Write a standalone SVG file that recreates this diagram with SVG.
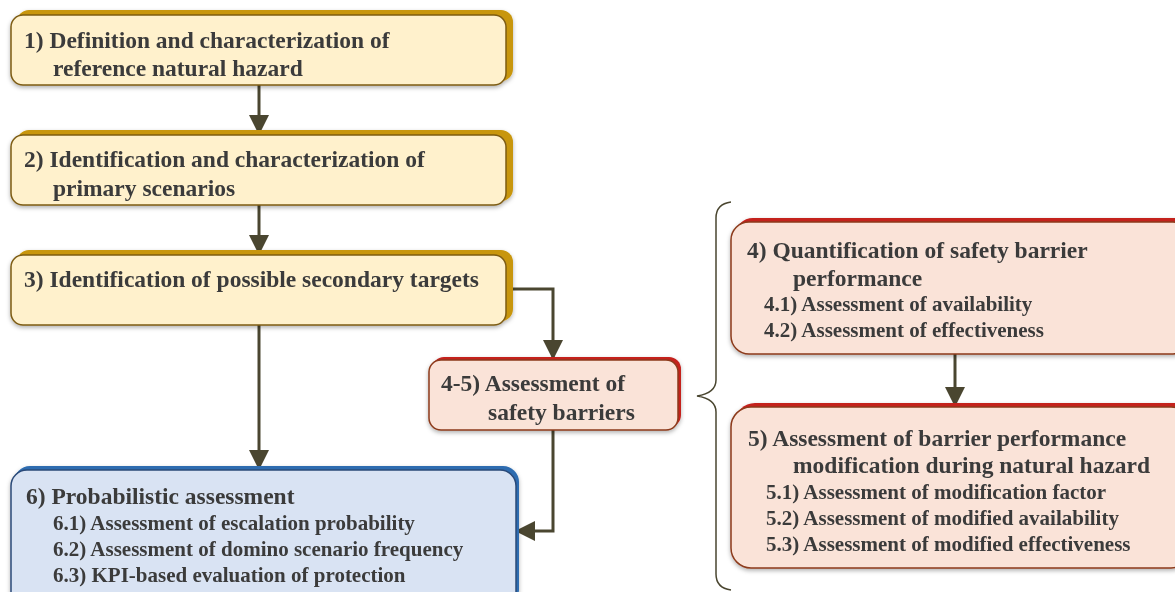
<svg xmlns="http://www.w3.org/2000/svg" width="1175" height="592" viewBox="0 0 1175 592">
  <defs>
    <filter id="shadow" x="-5%" y="-10%" width="110%" height="125%">
      <feDropShadow dx="0" dy="2" stdDeviation="2" flood-color="#000" flood-opacity="0.3"/>
    </filter>
    <marker id="arrowL" viewBox="0 0 20 20" refX="19" refY="10" markerWidth="20" markerHeight="20" markerUnits="userSpaceOnUse" orient="auto">
      <path d="M0,0 L20,10 L0,20 z" fill="#4a4630"/>
    </marker>
  </defs>
  <style>
    text { font-family: "Liberation Serif", "Times New Roman", serif; font-weight: bold; fill: #3b3b3b; }
    .t { font-size: 23.5px; }
    .s { font-size: 21px; }
    .ybk { fill: #c8960c; }
    .yfr { fill: #fff1cc; stroke: #7d5c12; stroke-width: 1.5; }
    .rbk { fill: #c4201f; }
    .rfr { fill: #fae3d8; stroke: #8c3a1a; stroke-width: 1.5; }
    .bbk { fill: #2e6cb0; }
    .bfr { fill: #d9e3f3; stroke: #2b4a78; stroke-width: 1.5; }
    .edge { fill: none; stroke: #4a4630; stroke-width: 3; }
  </style>
  <rect width="1175" height="592" fill="#ffffff"/>

  <!-- connectors -->
  <g id="connectors">
    <path class="edge" d="M259,85 V134" marker-end="url(#arrowL)"/>
    <path class="edge" d="M259,205 V254" marker-end="url(#arrowL)"/>
    <path class="edge" d="M259,325 V469" marker-end="url(#arrowL)"/>
    <path class="edge" d="M506,289 H553 V359" marker-end="url(#arrowL)"/>
    <path class="edge" d="M553,430 V531 H516" marker-end="url(#arrowL)"/>
    <path class="edge" d="M955,354 V406" marker-end="url(#arrowL)"/>
    <!-- brace grouping steps 4 and 5 -->
    <path fill="none" stroke="#4a4630" stroke-width="1.5" d="M731,202 Q716,204 716,218 V380 Q716,393 697,396 Q716,399 716,412 V574 Q716,588 731,590"/>
  </g>

  <!-- step 1 -->
  <g id="node1" filter="url(#shadow)">
    <rect class="ybk" x="17" y="10" width="496" height="71" rx="12"/>
    <rect class="yfr" x="11" y="15" width="495" height="70" rx="12"/>
    <text class="t" x="24" y="48">1) Definition and characterization of</text>
    <text class="t" x="53" y="76">reference natural hazard</text>
  </g>

  <!-- step 2 -->
  <g id="node2" filter="url(#shadow)">
    <rect class="ybk" x="17" y="130" width="496" height="71" rx="12"/>
    <rect class="yfr" x="11" y="135" width="495" height="70" rx="12"/>
    <text class="t" x="24" y="167">2) Identification and characterization of</text>
    <text class="t" x="53" y="196">primary scenarios</text>
  </g>

  <!-- step 3 -->
  <g id="node3" filter="url(#shadow)">
    <rect class="ybk" x="17" y="250" width="496" height="71" rx="12"/>
    <rect class="yfr" x="11" y="255" width="495" height="70" rx="12"/>
    <text class="t" x="24" y="287">3) Identification of possible secondary targets</text>
  </g>

  <!-- step 4-5 -->
  <g id="node45" filter="url(#shadow)">
    <rect class="rbk" x="432" y="357" width="249" height="70" rx="12"/>
    <rect class="rfr" x="429" y="360" width="249" height="70" rx="12"/>
    <text class="t" x="441" y="391">4-5) Assessment of</text>
    <text class="t" x="488" y="420">safety barriers</text>
  </g>

  <!-- step 6 -->
  <g id="node6" filter="url(#shadow)">
    <rect class="bbk" x="14" y="466" width="505" height="140" rx="16"/>
    <rect class="bfr" x="11" y="470" width="505" height="140" rx="16"/>
    <text class="t" x="26" y="504">6) Probabilistic assessment</text>
    <text class="s" x="53" y="530">6.1) Assessment of escalation probability</text>
    <text class="s" x="53" y="556">6.2) Assessment of domino scenario frequency</text>
    <text class="s" x="53" y="582">6.3) KPI-based evaluation of protection</text>
  </g>

  <!-- step 4 -->
  <g id="node4" filter="url(#shadow)">
    <rect class="rbk" x="735" y="218" width="460" height="132" rx="18"/>
    <rect class="rfr" x="731" y="222" width="460" height="132" rx="18"/>
    <text class="t" x="747" y="258">4) Quantification of safety barrier</text>
    <text class="t" x="793" y="286">performance</text>
    <text class="s" x="764" y="311">4.1) Assessment of availability</text>
    <text class="s" x="764" y="337">4.2) Assessment of effectiveness</text>
  </g>

  <!-- step 5 -->
  <g id="node5" filter="url(#shadow)">
    <rect class="rbk" x="735" y="403" width="460" height="161" rx="20"/>
    <rect class="rfr" x="731" y="407" width="460" height="161" rx="20"/>
    <text class="t" x="748" y="446">5) Assessment of barrier performance</text>
    <text class="t" x="793" y="473">modification during natural hazard</text>
    <text class="s" x="766" y="499">5.1) Assessment of modification factor</text>
    <text class="s" x="766" y="525">5.2) Assessment of modified availability</text>
    <text class="s" x="766" y="551">5.3) Assessment of modified effectiveness</text>
  </g>
</svg>
